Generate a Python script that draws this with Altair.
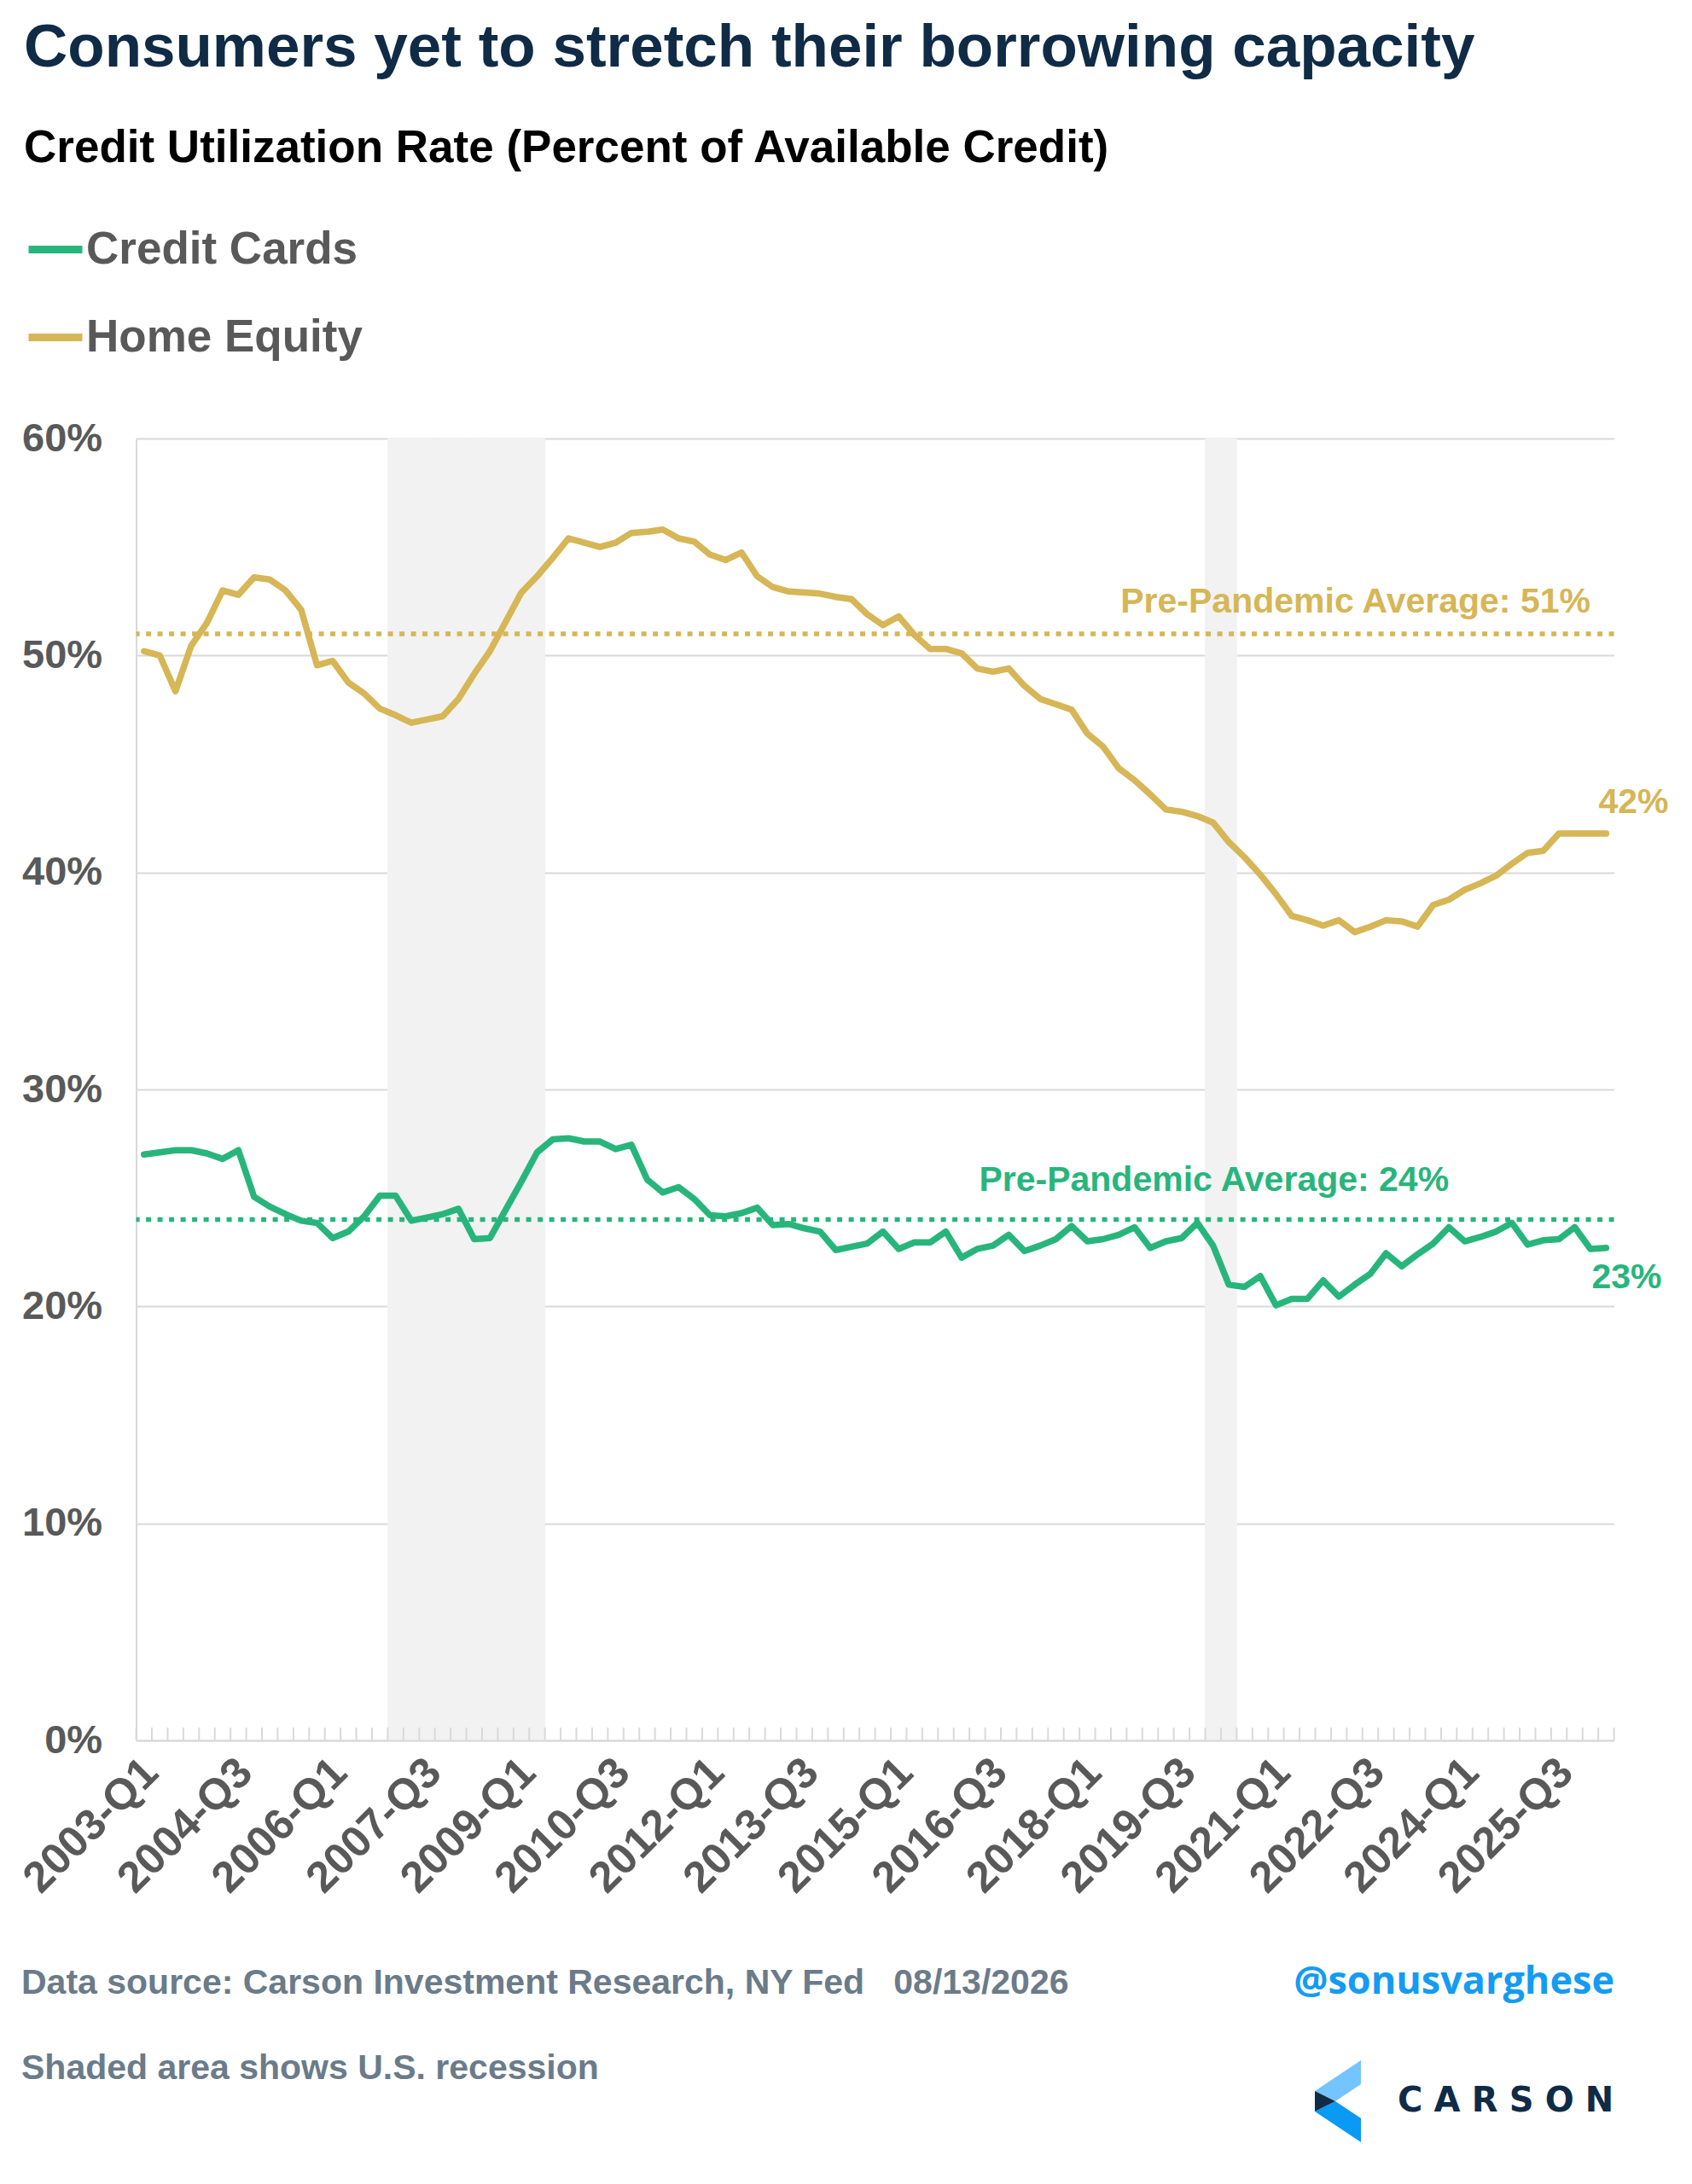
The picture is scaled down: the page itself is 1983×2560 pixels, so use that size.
import altair as alt
import pandas as pd

# ---------------- data ----------------
quarters = [f"{y}-Q{q}" for y in range(2003, 2027) for q in range(1, 5)][:94]

credit_cards = [
    27.0, 27.1, 27.2, 27.2, 27.05, 26.8, 27.2, 25.05, 24.6, 24.25,
    23.95, 23.85, 23.15, 23.45, 24.15, 25.1, 25.1, 23.95, 24.1, 24.25,
    24.5, 23.1, 23.15, 24.45, 25.75, 27.1, 27.7, 27.75, 27.6, 27.6,
    27.25, 27.45, 25.85, 25.25, 25.5, 24.95, 24.2, 24.15, 24.3, 24.55,
    23.75, 23.8, 23.6, 23.45, 22.6, 22.75, 22.9, 23.45, 22.65, 22.95,
    22.95, 23.45, 22.25, 22.65, 22.8, 23.3, 22.55, 22.8, 23.1, 23.7,
    23.0, 23.1, 23.3, 23.65, 22.7, 23.0, 23.15, 23.85, 22.8, 21.0,
    20.9, 21.4, 20.05, 20.35, 20.35, 21.2, 20.45, 21.0, 21.5, 22.45,
    21.85, 22.4, 22.9, 23.65, 23.0, 23.2, 23.45, 23.85, 22.85, 23.05,
    23.1, 23.65, 22.65, 22.7,
]

home_equity = [
    50.2, 50.0, 48.35, 50.45, 51.5, 53.0, 52.8, 53.6, 53.5, 53.0,
    52.1, 49.55, 49.75, 48.75, 48.25, 47.55, 47.25, 46.9, 47.05, 47.2,
    48.0, 49.15, 50.2, 51.55, 52.9, 53.65, 54.5, 55.4, 55.2, 55.0,
    55.2, 55.65, 55.7, 55.8, 55.4, 55.25, 54.65, 54.4, 54.75, 53.65,
    53.15, 52.95, 52.9, 52.85, 52.7, 52.6, 51.9, 51.4, 51.8, 50.95,
    50.3, 50.3, 50.1, 49.4, 49.25, 49.4, 48.6, 48.0, 47.75, 47.5,
    46.4, 45.8, 44.8, 44.25, 43.6, 42.9, 42.8, 42.6, 42.3, 41.4,
    40.7, 39.9, 39.0, 38.0, 37.8, 37.55, 37.8, 37.25, 37.5, 37.8,
    37.75, 37.5, 38.5, 38.75, 39.2, 39.5, 39.85, 40.4, 40.9, 41.0,
    41.8, 41.8, 41.8, 41.8,
]

series_names = ["Credit Cards", "Home Equity"]

recession_quarters = [
    "2007-Q1", "2007-Q2", "2007-Q3", "2007-Q4",
    "2008-Q1", "2008-Q2", "2008-Q3", "2008-Q4",
    "2009-Q1", "2009-Q2",
    "2020-Q1", "2020-Q2",
]

pre_pandemic_avg = [24, 51]                # Credit Cards, Home Equity
avg_label_anchor = ["2023-Q4", "2026-Q1"]  # category the label ends at

x_label_quarters = quarters[::6]
y_ticks = [0, 10, 20, 30, 40, 50, 60]

# ---------------- style ----------------
GREEN = "#28B57C"
GOLD = "#D6B656"
GRID = "#D9D9D9"
SHADE = "#F2F2F2"
LABEL_GREY = "#595959"
FOOT_GREY = "#6B7B89"
NAVY = "#0F2B46"
FONT = "Liberation Sans"

W, H = 1732, 1526

# ---------------- tables ----------------
long_df = pd.DataFrame({
    "quarter": quarters * 2,
    "series": [series_names[0]] * len(quarters) + [series_names[1]] * len(quarters),
    "value": credit_cards + home_equity,
})
avg_df = pd.DataFrame({
    "series": series_names,
    "avg": pre_pandemic_avg,
    "anchor": avg_label_anchor,
})
avg_df["label"] = ["Pre-Pandemic Average: " + str(v) + "%" for v in pre_pandemic_avg]
last_df = pd.DataFrame({
    "series": series_names,
    "quarter": [quarters[-1]] * 2,
    "value": [credit_cards[-1], home_equity[-1]],
})

x_scale = alt.Scale(type="band", domain=quarters, paddingInner=0, paddingOuter=0)
y_scale = alt.Scale(domain=[0, 60], nice=False)
color_scale = alt.Scale(domain=series_names, range=[GREEN, GOLD])

x_axis = alt.Axis(
    values=x_label_quarters, labelAngle=315, labelAlign="right", labelBaseline="top",
    labelPadding=12, labelOffset=-9, labelFontSize=51, labelFontWeight="bold",
    labelColor=LABEL_GREY, labelFont=FONT, labelOverlap=False, labelLimit=1000,
    ticks=False, grid=False, domainColor=GRID, domainWidth=2, title=None, zindex=1,
)
y_axis = alt.Axis(
    values=y_ticks, labelExpr="datum.value + '%'", labelFontSize=47, labelFontWeight="bold",
    labelColor=LABEL_GREY, labelFont=FONT, labelPadding=40, ticks=False, domain=True,
    domainColor=GRID, domainWidth=2, grid=True, gridColor=GRID, gridWidth=2, title=None,
)
legend = alt.Legend(
    title=None, orient="none", legendX=-130.6, legendY=-257.5, direction="vertical",
    symbolType="stroke", symbolSize=3969, symbolStrokeWidth=9, labelFontSize=53,
    labelFont=FONT, labelFontWeight="bold", labelColor=LABEL_GREY, labelOffset=0,
    rowPadding=40, padding=0, labelLimit=1000,
)

# ---------------- layers ----------------
recession = alt.Chart(pd.DataFrame({"quarter": recession_quarters})).mark_rect(
    color=SHADE, stroke=SHADE, strokeWidth=0.8
).encode(
    x=alt.X("quarter:N", scale=x_scale),
    y=alt.datum(60),
    y2=alt.datum(0),
)

ticks_in = alt.Chart(pd.DataFrame({"quarter": quarters})).mark_rule(
    color=GRID, strokeWidth=2
).encode(
    x=alt.X("quarter:N", scale=x_scale, bandPosition=0),
    y=alt.datum(0),
    y2=alt.value(H - 15),
)
tick_end = alt.Chart(pd.DataFrame({"quarter": [quarters[-1]]})).mark_rule(
    color=GRID, strokeWidth=2
).encode(
    x=alt.X("quarter:N", scale=x_scale, bandPosition=1),
    y=alt.datum(0),
    y2=alt.value(H - 15),
)

avg_layers = []
for name, col, dy in zip(series_names, [GREEN, GOLD], [-34, -25]):
    base = alt.Chart(avg_df).transform_filter(alt.datum.series == name)
    avg_layers.append(
        base.mark_rule(color=col, strokeWidth=5.5, strokeDash=[6, 7.5]).encode(
            y=alt.Y("avg:Q", scale=y_scale)
        )
    )
    avg_layers.append(
        base.mark_text(
            color=col, align="right", baseline="alphabetic", dy=dy,
            fontSize=41, fontWeight="bold", font=FONT,
        ).encode(
            x=alt.X("anchor:N", scale=x_scale, bandPosition=0.5),
            y=alt.Y("avg:Q", scale=y_scale),
            text="label:N",
        )
    )

lines = alt.Chart(long_df).mark_line(
    strokeWidth=7.5, strokeJoin="round", strokeCap="round"
).encode(
    x=alt.X("quarter:N", scale=x_scale, axis=x_axis, bandPosition=0.5),
    y=alt.Y("value:Q", scale=y_scale, axis=y_axis),
    color=alt.Color("series:N", scale=color_scale, legend=legend),
)

end_layers = []
for name, col, dx, dy in zip(series_names, [GREEN, GOLD], [-17, -9], [47, -24]):
    end_layers.append(
        alt.Chart(last_df).transform_filter(alt.datum.series == name)
        .transform_calculate(label="format(datum.value, '.0f') + '%'")
        .mark_text(color=col, align="left", baseline="alphabetic", dx=dx, dy=dy,
                   fontSize=41, fontWeight="bold", font=FONT)
        .encode(
            x=alt.X("quarter:N", scale=x_scale, bandPosition=0.5),
            y=alt.Y("value:Q", scale=y_scale),
            text="label:N",
        )
    )


def txt(text, x, y, size, color, align="left", font=FONT, weight="bold"):
    return alt.Chart(alt.Data(values=[{}])).mark_text(
        text=text, align=align, baseline="alphabetic", fontSize=size,
        fontWeight=weight, font=font, color=color,
    ).encode(x=alt.value(x), y=alt.value(y))


NB = "\u00a0"
texts = [
    txt("Consumers yet to stretch their borrowing capacity", -131.6, -436, 71, NAVY),
    txt("Credit Utilization Rate (Percent of Available Credit)", -131.6, -324, 53, "#000000"),
    txt("Data source: Carson Investment Research, NY Fed" + NB * 3 + "08/13/2026",
        -134.6, 1823, 41, FOOT_GREY),
    txt("@sonusvarghese", 1732.4, 1823, 45, "#139CF2", align="right", font="Open Sans"),
    txt("Shaded area shows U.S. recession", -134.6, 1923, 41, FOOT_GREY),
    txt("\u2004".join("CARSON"), 1478.4, 1961, 40, NAVY, font="DejaVu Sans", weight="bold"),
]

logo_top = "M -0.5625 -0.25 L 0.5625 -1 L 0.5625 -0.4167 L -0.0625 0 Z"
logo_bot = "M -0.5625 0.25 L -0.0625 0 L 0.5625 0.4167 L 0.5625 1 Z"
logo_mid = "M -0.5625 -0.25 L -0.0625 0 L -0.5625 0.25 Z"
logo = [
    alt.Chart(alt.Data(values=[{}])).mark_point(
        shape=p, filled=True, size=9216, color=c, opacity=1, strokeWidth=0
    ).encode(x=alt.value(1408.4), y=alt.value(1949))
    for p, c in [(logo_top, "#74C4FF"), (logo_bot, "#0A99F5"), (logo_mid, NAVY)]
]

chart = alt.layer(
    recession, ticks_in, tick_end, *avg_layers, lines, *end_layers, *texts, *logo
).properties(
    width=W, height=H,
    autosize=alt.AutoSizeParams(type="none"),
    padding={"left": 151.6, "top": 506, "right": 83.4, "bottom": 512},
    background="white",
).configure_view(strokeWidth=0)

chart.save("out.html", embed_options={"renderer": "svg", "actions": False})
